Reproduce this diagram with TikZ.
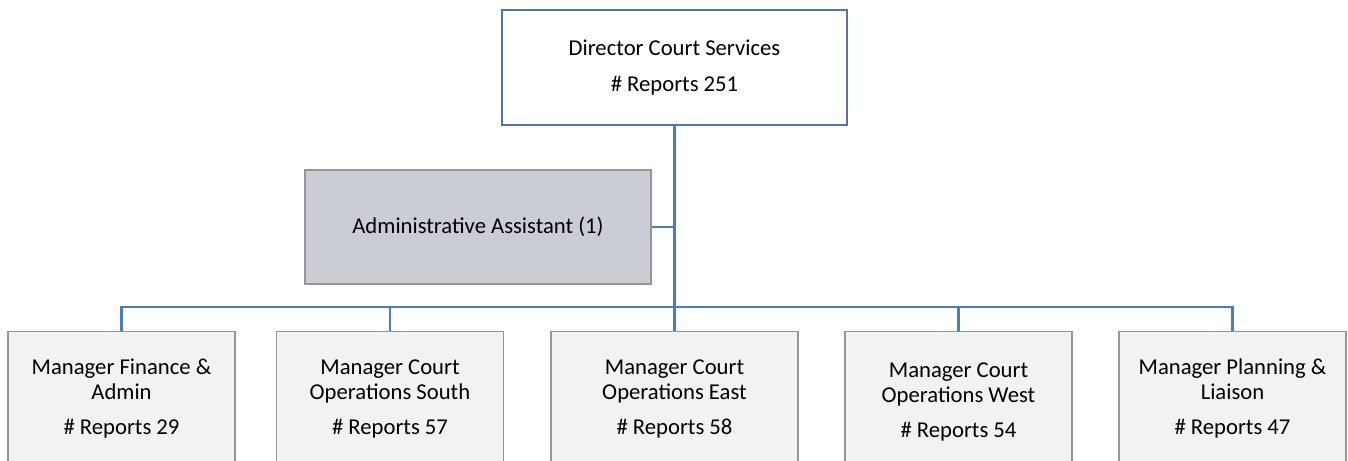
\documentclass[tikz,border=0pt]{standalone}
\usepackage{fontspec}
\setmainfont{Carlito}
\usepackage{tikz}
\usetikzlibrary{positioning}
\definecolor{connblue}{RGB}{74,126,187}
\definecolor{topblue}{RGB}{84,118,163}
\definecolor{boxgray}{RGB}{242,242,242}
\definecolor{asstgray}{RGB}{203,205,212}
\definecolor{edgegray}{RGB}{150,150,150}
\tikzset{
	org/.style={rectangle,align=center,font=\fontsize{12.9}{14.2}\selectfont},
	topbox/.style={org,draw=topblue,line width=1.2pt,fill=white,minimum width=6.9cm,minimum height=2.3cm},
	asstbox/.style={org,draw=edgegray,line width=0.6pt,fill=asstgray,minimum width=6.92cm,minimum height=2.28cm},
	mgrbox/.style={org,draw=edgegray,line width=0.6pt,fill=boxgray,anchor=north,minimum width=4.54cm,minimum height=2.68cm},
	conn/.style={draw=connblue,line width=1.2pt}
}

\begin{document}
\begin{tikzpicture}
		\useasboundingbox (0,0) rectangle (26.96,-9.22);
		\node[topbox] (dir) at (13.49,-1.35) {Director Court Services\\[6.2pt] \# Reports 251};
		\node[asstbox] (asst) at (9.56,-4.54) {Administrative Assistant (1)};
		\node[mgrbox] (fin) at (2.43,-6.62) {Manager Finance \&\\ Admin\\[5.7pt] \# Reports 29};
		\node[mgrbox] (south) at (7.80,-6.62) {Manager Court\\ Operations South\\[5.7pt] \# Reports 57};
		\node[mgrbox,minimum width=4.94cm] (east) at (13.49,-6.62) {Manager Court\\ Operations East\\[5.7pt] \# Reports 58};
		\node[mgrbox,minimum height=2.8cm] (west) at (19.17,-6.62) {Manager Court\\ Operations West\\[5.7pt] \# Reports 54};
		\node[mgrbox] (plan) at (24.65,-6.62) {Manager Planning \&\\ Liaison\\[5.7pt] \# Reports 47};
		\coordinate (bus) at (13.49,-6.14);
		\draw[conn] (dir.south)--(east.north);
		\draw[conn] (asst.east)--(asst.east -| dir.south);
		\draw[conn] (fin.north)|-(bus)-|(plan.north);
		\draw[conn] (bus -| south.north)--(south.north);
		\draw[conn] (bus -| west.north)--(west.north);
	\end{tikzpicture}
\end{document}
